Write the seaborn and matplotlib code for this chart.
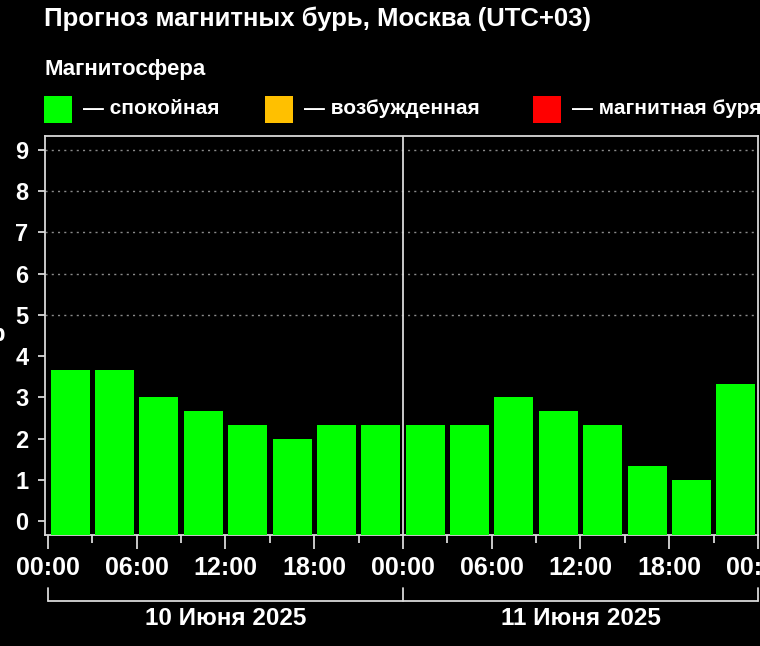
import matplotlib.pyplot as plt
import matplotlib.transforms as mtransforms
from matplotlib.patches import Rectangle
import seaborn as sns
import pandas as pd

# Kp forecast, 3-hour intervals over two days
hours = [0, 3, 6, 9, 12, 15, 18, 21, 24, 27, 30, 33, 36, 39, 42, 45]
kp_values = [3.67, 3.67, 3.0, 2.67, 2.33, 2.0, 2.33, 2.33,
             2.33, 2.33, 3.0, 2.67, 2.33, 1.33, 1.0, 3.33]
tick_hours = [0, 6, 12, 18, 24, 30, 36, 42, 48]
tick_labels = ["00:00", "06:00", "12:00", "18:00", "00:00", "06:00", "12:00", "18:00", "00:00"]
day_starts = [0, 24]
day_labels = ["10 Июня 2025", "11 Июня 2025"]
legend_labels = ["— спокойная", "— возбужденная", "— магнитная буря"]
legend_colors = ["#00ff00", "#ffc000", "#ff0000"]

df = pd.DataFrame({"center": [h + 1.5 for h in hours], "kp": kp_values})

sns.set_style("dark")
plt.rcParams["font.family"] = ["Liberation Sans", "DejaVu Sans"]
plt.rcParams["font.weight"] = "bold"

fig = plt.figure(figsize=(7.6, 6.46), dpi=100, facecolor="black")
ax = fig.add_axes([45 / 760, 111 / 646, 713 / 760, 399 / 646])
ax.set_facecolor("black")

sns.barplot(data=df, x="center", y="kp", native_scale=True, width=0.88,
            color=legend_colors[0], saturation=1, ax=ax, zorder=3)

ylo, yhi = -0.34, 9.34
# bars run down to the bottom spine
for p in ax.patches:
    p.set_y(ylo)
    p.set_height(p.get_height() - ylo)
    p.set_linewidth(0)

ax.set_xlim(-0.2, 48.0)
ax.set_ylim(ylo, yhi)

for lvl in range(5, 10):
    ax.axhline(lvl, color="#8a8a8a", lw=1, ls=(0, (1.5, 3)), zorder=1)
ax.axvline(24, color="#d9d9d9", lw=1.3, zorder=4)

ax.set_xticks(tick_hours)
ax.set_xticklabels(tick_labels)
ax.set_xticks([h for h in hours if h % 6 == 3], minor=True)
ax.set_yticks(range(10))
ax.tick_params(axis="x", which="major", length=10, width=1.3, color="#d9d9d9",
               labelcolor="white", labelsize=18, pad=5, bottom=True)
ax.tick_params(axis="x", which="minor", length=6, width=1.3, color="#d9d9d9", bottom=True)
ax.tick_params(axis="y", length=5, width=1.3, color="#d9d9d9", labelcolor="white",
               labelsize=17, pad=7, left=True)
for lab in ax.get_xticklabels() + ax.get_yticklabels():
    lab.set_fontweight("bold")
ax.grid(False)
ax.set_xlabel("")
ax.set_ylabel("")
for s in ax.spines.values():
    s.set_color("#d9d9d9")
    s.set_linewidth(1.3)
    s.set_visible(True)

# day brackets below the time axis
trans = mtransforms.blended_transform_factory(ax.transData, ax.transAxes)
ax.plot([0, 48], [-0.166, -0.166], color="#d9d9d9", lw=1.3, transform=trans, clip_on=False)
for x in day_starts + [48]:
    ax.plot([x, x], [-0.166, -0.133], color="#d9d9d9", lw=1.3, transform=trans, clip_on=False)
for start, lab in zip(day_starts, day_labels):
    ax.text(start + 12, -0.21, lab, transform=trans, ha="center", va="center",
            color="white", fontsize=17.5, fontweight="bold")

fig.text(44 / 760, 1 - 19 / 646, "Прогноз магнитных бурь, Москва (UTC+03)",
         color="white", fontsize=18.5, fontweight="bold", va="center", ha="left")
fig.text(44 / 760, 1 - 70 / 646, "Магнитосфера", color="white", fontsize=16,
         fontweight="bold", va="center", ha="left")
fig.text(6 / 760, 1 - 335 / 646, "Kp", color="white", fontsize=17,
         fontweight="bold", va="center", ha="right")

legend_x = [44, 265, 533]
for x, lab, col in zip(legend_x, legend_labels, legend_colors):
    fig.patches.append(Rectangle((x / 760, 1 - 123 / 646), 28 / 760, 27 / 646,
                                 transform=fig.transFigure, facecolor=col,
                                 edgecolor="none"))
    fig.text((x + 39) / 760, 1 - 109 / 646, lab, color="white", fontsize=15,
             fontweight="bold", va="center", ha="left")

fig.savefig("out.png", dpi=100, facecolor="black")
